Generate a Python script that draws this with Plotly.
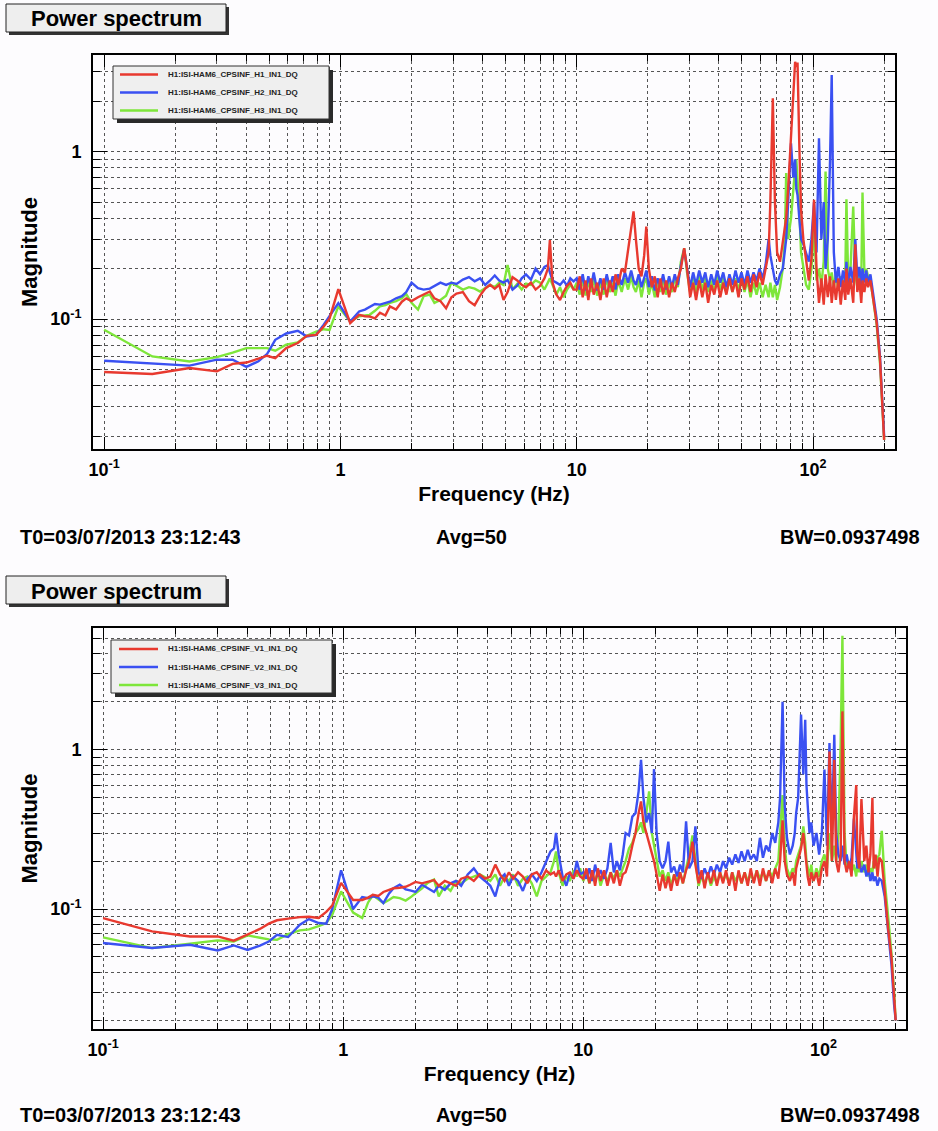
import plotly.graph_objects as go

# ---------------- data ----------------
FREQ_HZ = [
    0.1, 0.16, 0.23, 0.3, 0.35, 0.4, 0.45, 0.49, 0.53, 0.59, 0.66, 0.72, 0.79, 0.85, 0.9, 0.98, 1.1, 1.2, 1.27, 1.33, 1.4, 1.47, 1.55, 1.62, 1.72, 1.82, 1.9, 2.0,
    2.13, 2.25, 2.39, 2.5, 2.65, 2.8, 2.95, 3.1, 3.3, 3.5, 3.7, 3.9, 4.1, 4.3, 4.5, 4.7, 4.9, 5.1, 5.35, 5.6, 5.85, 6.1, 6.4, 6.7, 7.0, 7.3, 7.55, 7.7, 7.9, 8.2, 8.5, 8.8, 9.1, 9.4, 9.7,
    10.0, 10.3, 10.6, 10.9, 11.2, 11.5, 11.8, 12.2, 12.6, 13.0, 13.4, 13.8, 14.2, 14.6, 15.0,
    15.5, 16.0, 16.5, 17.0, 17.4, 17.8, 18.3, 18.8, 19.3, 19.7, 20.2,
    20.8, 21.4, 22.0, 22.6, 23.2, 23.9, 24.6, 25.3, 26.0, 26.8, 27.6, 28.5, 29.3, 30.2,
    31.1, 32.0, 33.0, 34.0, 35.0, 36.0, 37.1, 38.2, 39.3, 40.5, 41.7, 43.0, 44.3, 45.6, 47.0, 48.4, 49.8,
    51.3, 52.8, 54.4, 56.0, 57.7, 59.4, 61.2, 63.0, 64.9,
    66.0, 67.6, 69.0, 70.5, 72.5, 74.5, 76.0, 77.0, 78.5, 80.7, 82.5, 84.0, 85.0, 86.0, 87.5, 89.0,
    91.0, 93.5, 96.0, 98.5, 101, 103.5, 106, 108.5, 111, 113, 115.5, 118, 120,
    122.5, 125, 128, 131, 134, 137, 138.5, 141, 144, 148, 151, 154, 157, 160, 162,
    165, 168, 171, 175, 180, 186, 192, 197, 200,
]

# top panel: horizontal CPS channels
H1 = [
    0.0483, 0.047, 0.051, 0.0487, 0.054, 0.055, 0.058, 0.0604, 0.0585, 0.0671, 0.0719, 0.0794, 0.0805, 0.0903, 0.101, 0.151, 0.0946, 0.106, 0.104, 0.1035, 0.101, 0.109, 0.105, 0.119, 0.114, 0.127, 0.133, 0.128,
    0.135, 0.140, 0.146, 0.133, 0.128, 0.116, 0.135, 0.142, 0.145, 0.128, 0.121, 0.138, 0.152, 0.16, 0.152, 0.16, 0.13, 0.145, 0.178, 0.17, 0.16, 0.155, 0.165, 0.15, 0.158, 0.175, 0.2, 0.296, 0.165, 0.14, 0.13, 0.145, 0.158, 0.165, 0.15,
    0.15, 0.18, 0.135, 0.17, 0.13, 0.175, 0.14, 0.165, 0.13, 0.175, 0.135, 0.17, 0.145, 0.185, 0.16,
    0.2, 0.19, 0.26, 0.33, 0.44, 0.3, 0.2, 0.18, 0.24, 0.357, 0.2,
    0.155, 0.18, 0.135, 0.175, 0.14, 0.17, 0.135, 0.165, 0.145, 0.175, 0.2, 0.265, 0.2, 0.135,
    0.165, 0.13, 0.17, 0.135, 0.165, 0.125, 0.16, 0.14, 0.17, 0.135, 0.165, 0.14, 0.175, 0.145, 0.17, 0.135, 0.175,
    0.15, 0.18, 0.145, 0.185, 0.155, 0.19, 0.16, 0.2, 0.25,
    0.5, 2.08, 0.5, 0.25, 0.22, 0.28, 0.35, 0.4, 0.6, 1.2, 2.0, 3.44, 3.2, 3.4, 1.1, 0.45,
    0.3, 0.22, 0.17, 0.23, 0.515, 0.2, 0.125, 0.175, 0.122, 0.185, 0.135, 0.18, 0.125,
    0.17, 0.13, 0.175, 0.122, 0.17, 0.13, 0.2, 0.14, 0.175, 0.125, 0.28, 0.145, 0.175, 0.125, 0.17,
    0.145, 0.175, 0.155, 0.17, 0.13, 0.095, 0.058, 0.027, 0.019,
]
H2 = [
    0.0564, 0.0541, 0.0527, 0.0572, 0.0572, 0.0518, 0.056, 0.062, 0.0752, 0.082, 0.0851, 0.0788, 0.0805, 0.0925, 0.1035, 0.1245, 0.0968, 0.111, 0.114, 0.118, 0.123, 0.122, 0.125, 0.127, 0.133, 0.137, 0.145, 0.165,
    0.153, 0.150, 0.152, 0.157, 0.165, 0.160, 0.165, 0.162, 0.172, 0.178, 0.168, 0.175, 0.16, 0.17, 0.182, 0.17, 0.165, 0.171, 0.15, 0.158, 0.175, 0.185, 0.172, 0.2, 0.185, 0.205, 0.21, 0.19, 0.17, 0.165, 0.16, 0.17, 0.158, 0.175, 0.168,
    0.175, 0.15, 0.185, 0.148, 0.18, 0.155, 0.19, 0.148, 0.175, 0.15, 0.185, 0.155, 0.18, 0.15, 0.185,
    0.16, 0.19, 0.165, 0.195, 0.17, 0.16, 0.185, 0.155, 0.18, 0.195, 0.155,
    0.18, 0.148, 0.175, 0.155, 0.185, 0.15, 0.18, 0.155, 0.185, 0.16, 0.21, 0.26, 0.2, 0.155,
    0.19, 0.16, 0.195, 0.165, 0.19, 0.155, 0.185, 0.16, 0.195, 0.165, 0.19, 0.155, 0.185, 0.16, 0.195, 0.165, 0.19,
    0.16, 0.195, 0.165, 0.19, 0.17, 0.2, 0.175, 0.21, 0.3,
    0.24, 0.2, 0.17, 0.16, 0.185, 0.2, 0.25, 0.3, 0.5, 1.12, 0.7, 0.9, 0.6, 0.55, 0.4, 0.3,
    0.28, 0.25, 0.22, 0.3, 0.5, 0.25, 1.2, 0.3, 0.5, 0.2, 0.3, 0.86, 2.87,
    0.25, 0.165, 0.205, 0.155, 0.195, 0.165, 0.22, 0.155, 0.205, 0.165, 0.3, 0.175, 0.205, 0.16, 0.2,
    0.165, 0.195, 0.165, 0.185, 0.135, 0.1, 0.06, 0.028, 0.02,
]
H3 = [
    0.0863, 0.0598, 0.0558, 0.0593, 0.063, 0.0671, 0.0671, 0.0671, 0.0647, 0.0703, 0.0725, 0.0794, 0.084, 0.087, 0.086, 0.119, 0.0968, 0.104, 0.105, 0.106, 0.112, 0.119, 0.121, 0.125, 0.128, 0.133, 0.141, 0.125,
    0.114, 0.137, 0.140, 0.125, 0.130, 0.138, 0.165, 0.158, 0.150, 0.155, 0.152, 0.146, 0.153, 0.16, 0.155, 0.165, 0.16, 0.21, 0.15, 0.162, 0.15, 0.163, 0.16, 0.17, 0.165, 0.15, 0.165, 0.175, 0.16, 0.14, 0.155, 0.135, 0.15, 0.16, 0.15,
    0.165, 0.14, 0.175, 0.138, 0.17, 0.145, 0.175, 0.138, 0.165, 0.14, 0.175, 0.145, 0.165, 0.138, 0.17,
    0.145, 0.175, 0.15, 0.18, 0.155, 0.145, 0.17, 0.135, 0.165, 0.175, 0.14,
    0.165, 0.135, 0.17, 0.145, 0.175, 0.14, 0.165, 0.145, 0.175, 0.155, 0.22, 0.265, 0.19, 0.145,
    0.175, 0.145, 0.18, 0.15, 0.175, 0.145, 0.17, 0.145, 0.18, 0.15, 0.175, 0.145, 0.17, 0.145, 0.175, 0.15, 0.175,
    0.145, 0.17, 0.135, 0.165, 0.14, 0.165, 0.135, 0.16, 0.135,
    0.165, 0.135, 0.16, 0.13, 0.155, 0.2, 0.3, 0.745, 0.3, 0.4, 0.6, 0.8, 0.9, 0.7, 0.45, 0.25,
    0.2, 0.16, 0.15, 0.2, 0.35, 0.17, 0.2, 0.16, 0.22, 0.76, 0.2, 0.17, 0.19,
    0.155, 0.185, 0.15, 0.18, 0.155, 0.185, 0.52, 0.165, 0.195, 0.47, 0.185, 0.155, 0.195, 0.165, 0.57,
    0.19, 0.2, 0.18, 0.17, 0.13, 0.092, 0.055, 0.025, 0.019,
]

# bottom panel: vertical CPS channels
V1 = [
    0.0878, 0.0724, 0.0673, 0.0673, 0.0633, 0.0697, 0.075, 0.081, 0.085, 0.0871, 0.089, 0.0895, 0.088, 0.096, 0.105, 0.146, 0.114, 0.114, 0.118, 0.123, 0.121, 0.128, 0.132, 0.135, 0.136, 0.138, 0.142, 0.148,
    0.145, 0.149, 0.152, 0.14, 0.15, 0.145, 0.14, 0.155, 0.16, 0.15, 0.165, 0.155, 0.16, 0.19, 0.165, 0.15, 0.17, 0.155, 0.17, 0.16, 0.145, 0.165, 0.17, 0.155, 0.175, 0.165, 0.17, 0.16, 0.175, 0.15, 0.165, 0.17, 0.155, 0.175, 0.16,
    0.155, 0.18, 0.145, 0.175, 0.14, 0.18, 0.15, 0.175, 0.14, 0.17, 0.145, 0.175, 0.14, 0.165, 0.17,
    0.2, 0.25, 0.3, 0.4, 0.474, 0.35, 0.3, 0.26, 0.22, 0.2, 0.165,
    0.13, 0.165, 0.135, 0.16, 0.13, 0.165, 0.14, 0.17, 0.145, 0.175, 0.2, 0.265, 0.19, 0.145,
    0.175, 0.135, 0.17, 0.145, 0.175, 0.14, 0.17, 0.145, 0.175, 0.14, 0.17, 0.13, 0.175, 0.145, 0.17, 0.14, 0.18,
    0.145, 0.175, 0.14, 0.18, 0.15, 0.175, 0.145, 0.18, 0.155,
    0.2, 0.36, 0.2, 0.165, 0.15, 0.17, 0.14, 0.18, 0.2, 0.24, 0.3, 0.22, 0.19, 0.16, 0.14, 0.17,
    0.15, 0.17, 0.14, 0.18, 0.2, 0.16, 0.975, 0.2, 0.865, 0.2, 0.17, 0.22, 1.74,
    0.2, 0.17, 0.2, 0.16, 0.38, 0.6, 0.22, 0.18, 0.49, 0.2, 0.25, 0.17, 0.22, 0.5, 0.18,
    0.22, 0.16, 0.21, 0.2, 0.13, 0.075, 0.05, 0.03, 0.02,
]
V2 = [
    0.0612, 0.0569, 0.0597, 0.055, 0.0591, 0.0554, 0.059, 0.0625, 0.069, 0.0667, 0.0797, 0.0865, 0.0817, 0.0809, 0.1, 0.175, 0.1, 0.119, 0.117, 0.12, 0.118, 0.109, 0.125, 0.135, 0.142, 0.133, 0.131, 0.128,
    0.142, 0.135, 0.128, 0.14, 0.132, 0.145, 0.15, 0.14, 0.165, 0.18, 0.16, 0.15, 0.14, 0.12, 0.155, 0.165, 0.14, 0.16, 0.15, 0.13, 0.155, 0.165, 0.15, 0.17, 0.2, 0.23, 0.24, 0.3, 0.22, 0.16, 0.14, 0.17, 0.155, 0.2, 0.165,
    0.17, 0.155, 0.18, 0.15, 0.19, 0.16, 0.175, 0.155, 0.18, 0.26, 0.17, 0.2, 0.175, 0.22, 0.3,
    0.29, 0.38, 0.4, 0.55, 0.865, 0.5, 0.35, 0.4, 0.3, 0.757, 0.3,
    0.2, 0.18, 0.2, 0.265, 0.17, 0.185, 0.16, 0.19, 0.17, 0.355, 0.18, 0.2, 0.33, 0.17,
    0.155, 0.18, 0.16, 0.185, 0.165, 0.19, 0.17, 0.2, 0.18, 0.21, 0.19, 0.22, 0.195, 0.23, 0.2, 0.235, 0.205,
    0.22, 0.2, 0.28, 0.21, 0.25, 0.23, 0.3, 0.26, 0.35,
    0.5, 2.0, 0.45, 0.28, 0.22, 0.25, 0.3, 0.4, 0.5, 1.66, 0.7, 1.54, 0.6, 0.45, 0.3, 0.35,
    0.25, 0.3, 0.22, 0.3, 0.75, 0.25, 1.1, 0.3, 1.24, 0.3, 0.22, 0.2, 0.25,
    0.19, 0.22, 0.18, 0.21, 0.37, 0.2, 0.18, 0.2, 0.17, 0.19, 0.16, 0.18, 0.15, 0.17, 0.15,
    0.16, 0.14, 0.155, 0.15, 0.12, 0.075, 0.045, 0.025, 0.02,
]
V3 = [
    0.0664, 0.0569, 0.0605, 0.0636, 0.0626, 0.0683, 0.066, 0.0645, 0.0641, 0.0695, 0.0735, 0.0745, 0.078, 0.0817, 0.092, 0.129, 0.095, 0.088, 0.11, 0.122, 0.115, 0.109, 0.114, 0.119, 0.117, 0.113, 0.118, 0.125,
    0.135, 0.146, 0.153, 0.12, 0.14, 0.13, 0.15, 0.145, 0.155, 0.16, 0.165, 0.158, 0.15, 0.165, 0.14, 0.16, 0.15, 0.165, 0.14, 0.155, 0.16, 0.145, 0.12, 0.15, 0.16, 0.17, 0.2, 0.23, 0.17, 0.14, 0.16, 0.15, 0.175, 0.16, 0.18,
    0.15, 0.17, 0.145, 0.165, 0.15, 0.17, 0.14, 0.165, 0.15, 0.17, 0.155, 0.175, 0.16, 0.18, 0.2,
    0.24, 0.26, 0.3, 0.32, 0.35, 0.3, 0.4, 0.548, 0.3, 0.25, 0.2,
    0.16, 0.175, 0.15, 0.17, 0.14, 0.165, 0.15, 0.17, 0.145, 0.18, 0.22, 0.29, 0.2, 0.14,
    0.16, 0.145, 0.165, 0.14, 0.16, 0.145, 0.17, 0.15, 0.165, 0.145, 0.17, 0.15, 0.165, 0.145, 0.17, 0.15, 0.165,
    0.15, 0.175, 0.155, 0.17, 0.15, 0.175, 0.16, 0.18, 0.2,
    0.3, 0.52, 0.25, 0.18, 0.16, 0.18, 0.17, 0.2, 0.22, 0.25, 0.33, 0.26, 0.2, 0.18, 0.16, 0.19,
    0.15, 0.18, 0.16, 0.2, 0.22, 0.18, 0.3, 0.2, 0.25, 0.2, 0.3, 1.1, 5.2,
    0.3, 0.18, 0.2, 0.17, 0.19, 0.16, 0.19, 0.17, 0.2, 0.17, 0.19, 0.16, 0.18, 0.17, 0.2,
    0.18, 0.21, 0.22, 0.31, 0.15, 0.09, 0.053, 0.03, 0.02,
]

TOP_NAMES = ["H1:ISI-HAM6_CPSINF_H1_IN1_DQ", "H1:ISI-HAM6_CPSINF_H2_IN1_DQ", "H1:ISI-HAM6_CPSINF_H3_IN1_DQ"]
BOT_NAMES = ["H1:ISI-HAM6_CPSINF_V1_IN1_DQ", "H1:ISI-HAM6_CPSINF_V2_IN1_DQ", "H1:ISI-HAM6_CPSINF_V3_IN1_DQ"]

X_TICKS = [0.1, 1, 10, 100]
X_TICK_TEXT = ["10<sup>-1</sup>", "1", "10", "10<sup>2</sup>"]
X_MINOR = [0.2, 0.3, 0.4, 0.5, 0.6, 0.7, 0.8, 0.9, 2, 3, 4, 5, 6, 7, 8, 9,
           20, 30, 40, 50, 60, 70, 80, 90, 200]
Y_TICKS = [0.1, 1]
Y_TICK_TEXT = ["10<sup>-1</sup>", "1"]
Y_MINOR = [0.02, 0.03, 0.04, 0.05, 0.06, 0.07, 0.08, 0.09,
           0.2, 0.3, 0.4, 0.5, 0.6, 0.7, 0.8, 0.9, 2, 3, 4, 5]

FOOTER_LEFT = "T0=03/07/2013 23:12:43"
FOOTER_MID = "Avg=50"
FOOTER_RIGHT = "BW=0.0937498"
PANEL_TITLE = "Power spectrum"

for s in (H1, H2, H3, V1, V2, V3):
    assert len(s) == len(FREQ_HZ), len(s)

# ---------------- styling ----------------
W, H = 938, 1131
FONT = "Liberation Sans"
COLORS = ["#e8392f", "#3a50f2", "#7ee63a"]
BG = "#fdfcfe"
GRID = "#555555"


def px(x):
    """screen pixel x -> paper coordinate"""
    return x / W


def py(y):
    """screen pixel y -> paper coordinate"""
    return 1 - y / H


fig = go.Figure()

panels = [
    dict(series=[H1, H2, H3], names=TOP_NAMES, xa="x", ya="y"),
    dict(series=[V1, V2, V3], names=BOT_NAMES, xa="x2", ya="y2"),
]
for p in panels:
    # draw green, blue, red so that red lies on top
    for i in (2, 1, 0):
        fig.add_trace(go.Scatter(
            x=FREQ_HZ, y=p["series"][i], mode="lines", name=p["names"][i],
            line=dict(color=COLORS[i], width=2.4),
            xaxis=p["xa"], yaxis=p["ya"], showlegend=False,
        ))

tick_font = dict(family=FONT, size=18, color="black", weight="bold")
xtitle_font = dict(family=FONT, size=21, color="black", weight="bold")
ytitle_font = dict(family=FONT, size=22, color="black", weight="bold")


def x_axis(domain, rng, anchor):
    return dict(
        type="log", domain=domain, range=rng, anchor=anchor,
        tickmode="array", tickvals=X_TICKS, ticktext=X_TICK_TEXT,
        ticks="inside", ticklen=12, tickwidth=1, tickcolor="black",
        showline=True, linecolor="black", linewidth=2, mirror="allticks",
        showgrid=True, gridcolor=GRID, griddash="dot", gridwidth=1,
        minor=dict(tickvals=X_MINOR, ticks="inside", ticklen=6, tickwidth=1, tickcolor="black",
                   showgrid=True, gridcolor=GRID, griddash="dot", gridwidth=1),
        tickfont=tick_font, ticklabelstandoff=3,
        title=dict(text="Frequency (Hz)", font=xtitle_font, standoff=8),
        zeroline=False, automargin=False,
    )


def y_axis(domain, rng, anchor):
    return dict(
        type="log", domain=domain, range=rng, anchor=anchor,
        tickmode="array", tickvals=Y_TICKS, ticktext=Y_TICK_TEXT,
        ticks="inside", ticklen=14, tickwidth=1, tickcolor="black",
        showline=True, linecolor="black", linewidth=2, mirror="allticks",
        showgrid=True, gridcolor=GRID, griddash="dot", gridwidth=1,
        minor=dict(tickvals=Y_MINOR, ticks="inside", ticklen=7, tickwidth=1, tickcolor="black",
                   showgrid=True, gridcolor=GRID, griddash="dot", gridwidth=1),
        tickfont=tick_font, ticklabelstandoff=6,
        title=dict(text="Magnitude", font=ytitle_font, standoff=6),
        zeroline=False, automargin=False,
    )


shapes = []
annotations = []
bold = dict(family=FONT, color="black", weight="bold")

# title boxes with drop shadow
for top in (4, 576):
    shapes.append(dict(type="rect", xref="paper", yref="paper",
                       x0=px(9), x1=px(229), y0=py(top + 31), y1=py(top + 3),
                       fillcolor="#333333", line=dict(width=0), layer="below"))
    shapes.append(dict(type="rect", xref="paper", yref="paper",
                       x0=px(6), x1=px(226), y0=py(top + 28), y1=py(top),
                       fillcolor="#eeeeee", line=dict(color="#222222", width=1), layer="below"))
    annotations.append(dict(text=PANEL_TITLE, xref="paper", yref="paper",
                            x=px(116), y=py(top + 15), xanchor="center", yanchor="middle",
                            showarrow=False, font=dict(size=22, **bold)))

# legend boxes (box, drop shadow, line samples, channel names)
legend_boxes = [
    dict(x0=113, x1=329, y0=66, y1=119, lx0=120, lx1=158, tx=166, rows=[74.5, 92.5, 110.5], names=TOP_NAMES),
    dict(x0=111, x1=332, y0=640, y1=693, lx0=119, lx1=158, tx=166, rows=[649, 667, 685], names=BOT_NAMES),
]
for lb in legend_boxes:
    shapes.append(dict(type="rect", xref="paper", yref="paper",
                       x0=px(lb["x0"] + 4), x1=px(lb["x1"] + 4), y0=py(lb["y1"] + 4), y1=py(lb["y0"] + 4),
                       fillcolor="#2a2a2a", line=dict(width=0), layer="above"))
    shapes.append(dict(type="rect", xref="paper", yref="paper",
                       x0=px(lb["x0"]), x1=px(lb["x1"]), y0=py(lb["y1"]), y1=py(lb["y0"]),
                       fillcolor="#efefef", line=dict(color="#333333", width=1), layer="above"))
    for i, ry in enumerate(lb["rows"]):
        shapes.append(dict(type="line", xref="paper", yref="paper",
                           x0=px(lb["lx0"]), x1=px(lb["lx1"]), y0=py(ry), y1=py(ry),
                           line=dict(color=COLORS[i], width=2.6), layer="above"))
        annotations.append(dict(text=lb["names"][i], xref="paper", yref="paper",
                                x=px(lb["tx"]), y=py(ry), xanchor="left", yanchor="middle",
                                showarrow=False, font=dict(family=FONT, size=8, color="#222222", weight="bold")))

# footers
for fy in (537, 1115):
    annotations.append(dict(text=FOOTER_LEFT, xref="paper", yref="paper", x=px(18), y=py(fy),
                            xanchor="left", yanchor="middle", showarrow=False, font=dict(size=20, **bold)))
    annotations.append(dict(text=FOOTER_MID, xref="paper", yref="paper", x=px(471), y=py(fy),
                            xanchor="center", yanchor="middle", showarrow=False, font=dict(size=20, **bold)))
    annotations.append(dict(text=FOOTER_RIGHT, xref="paper", yref="paper", x=px(922), y=py(fy),
                            xanchor="right", yanchor="middle", showarrow=False, font=dict(size=20, **bold)))

fig.update_layout(
    width=W, height=H, autosize=False,
    margin=dict(l=0, r=0, t=0, b=0),
    paper_bgcolor=BG, plot_bgcolor=BG,
    font=dict(family=FONT, color="black"),
    xaxis=x_axis([px(93), px(895)], [-1.047, 2.347], "y"),
    yaxis=y_axis([py(449), py(55)], [-1.776, 0.577], "x"),
    xaxis2=x_axis([px(93), px(906)], [-1.042, 2.344], "y2"),
    yaxis2=y_axis([py(1029), py(628)], [-1.753, 0.764], "x2"),
    shapes=shapes,
    annotations=annotations,
    showlegend=False,
)

# remove the browser's default 8px page margin so the figure sits at the window origin
fig.write_html(
    "out.html",
    config={"displayModeBar": False},
    post_script="document.body.style.margin='0px';document.documentElement.style.overflow='hidden';",
)
